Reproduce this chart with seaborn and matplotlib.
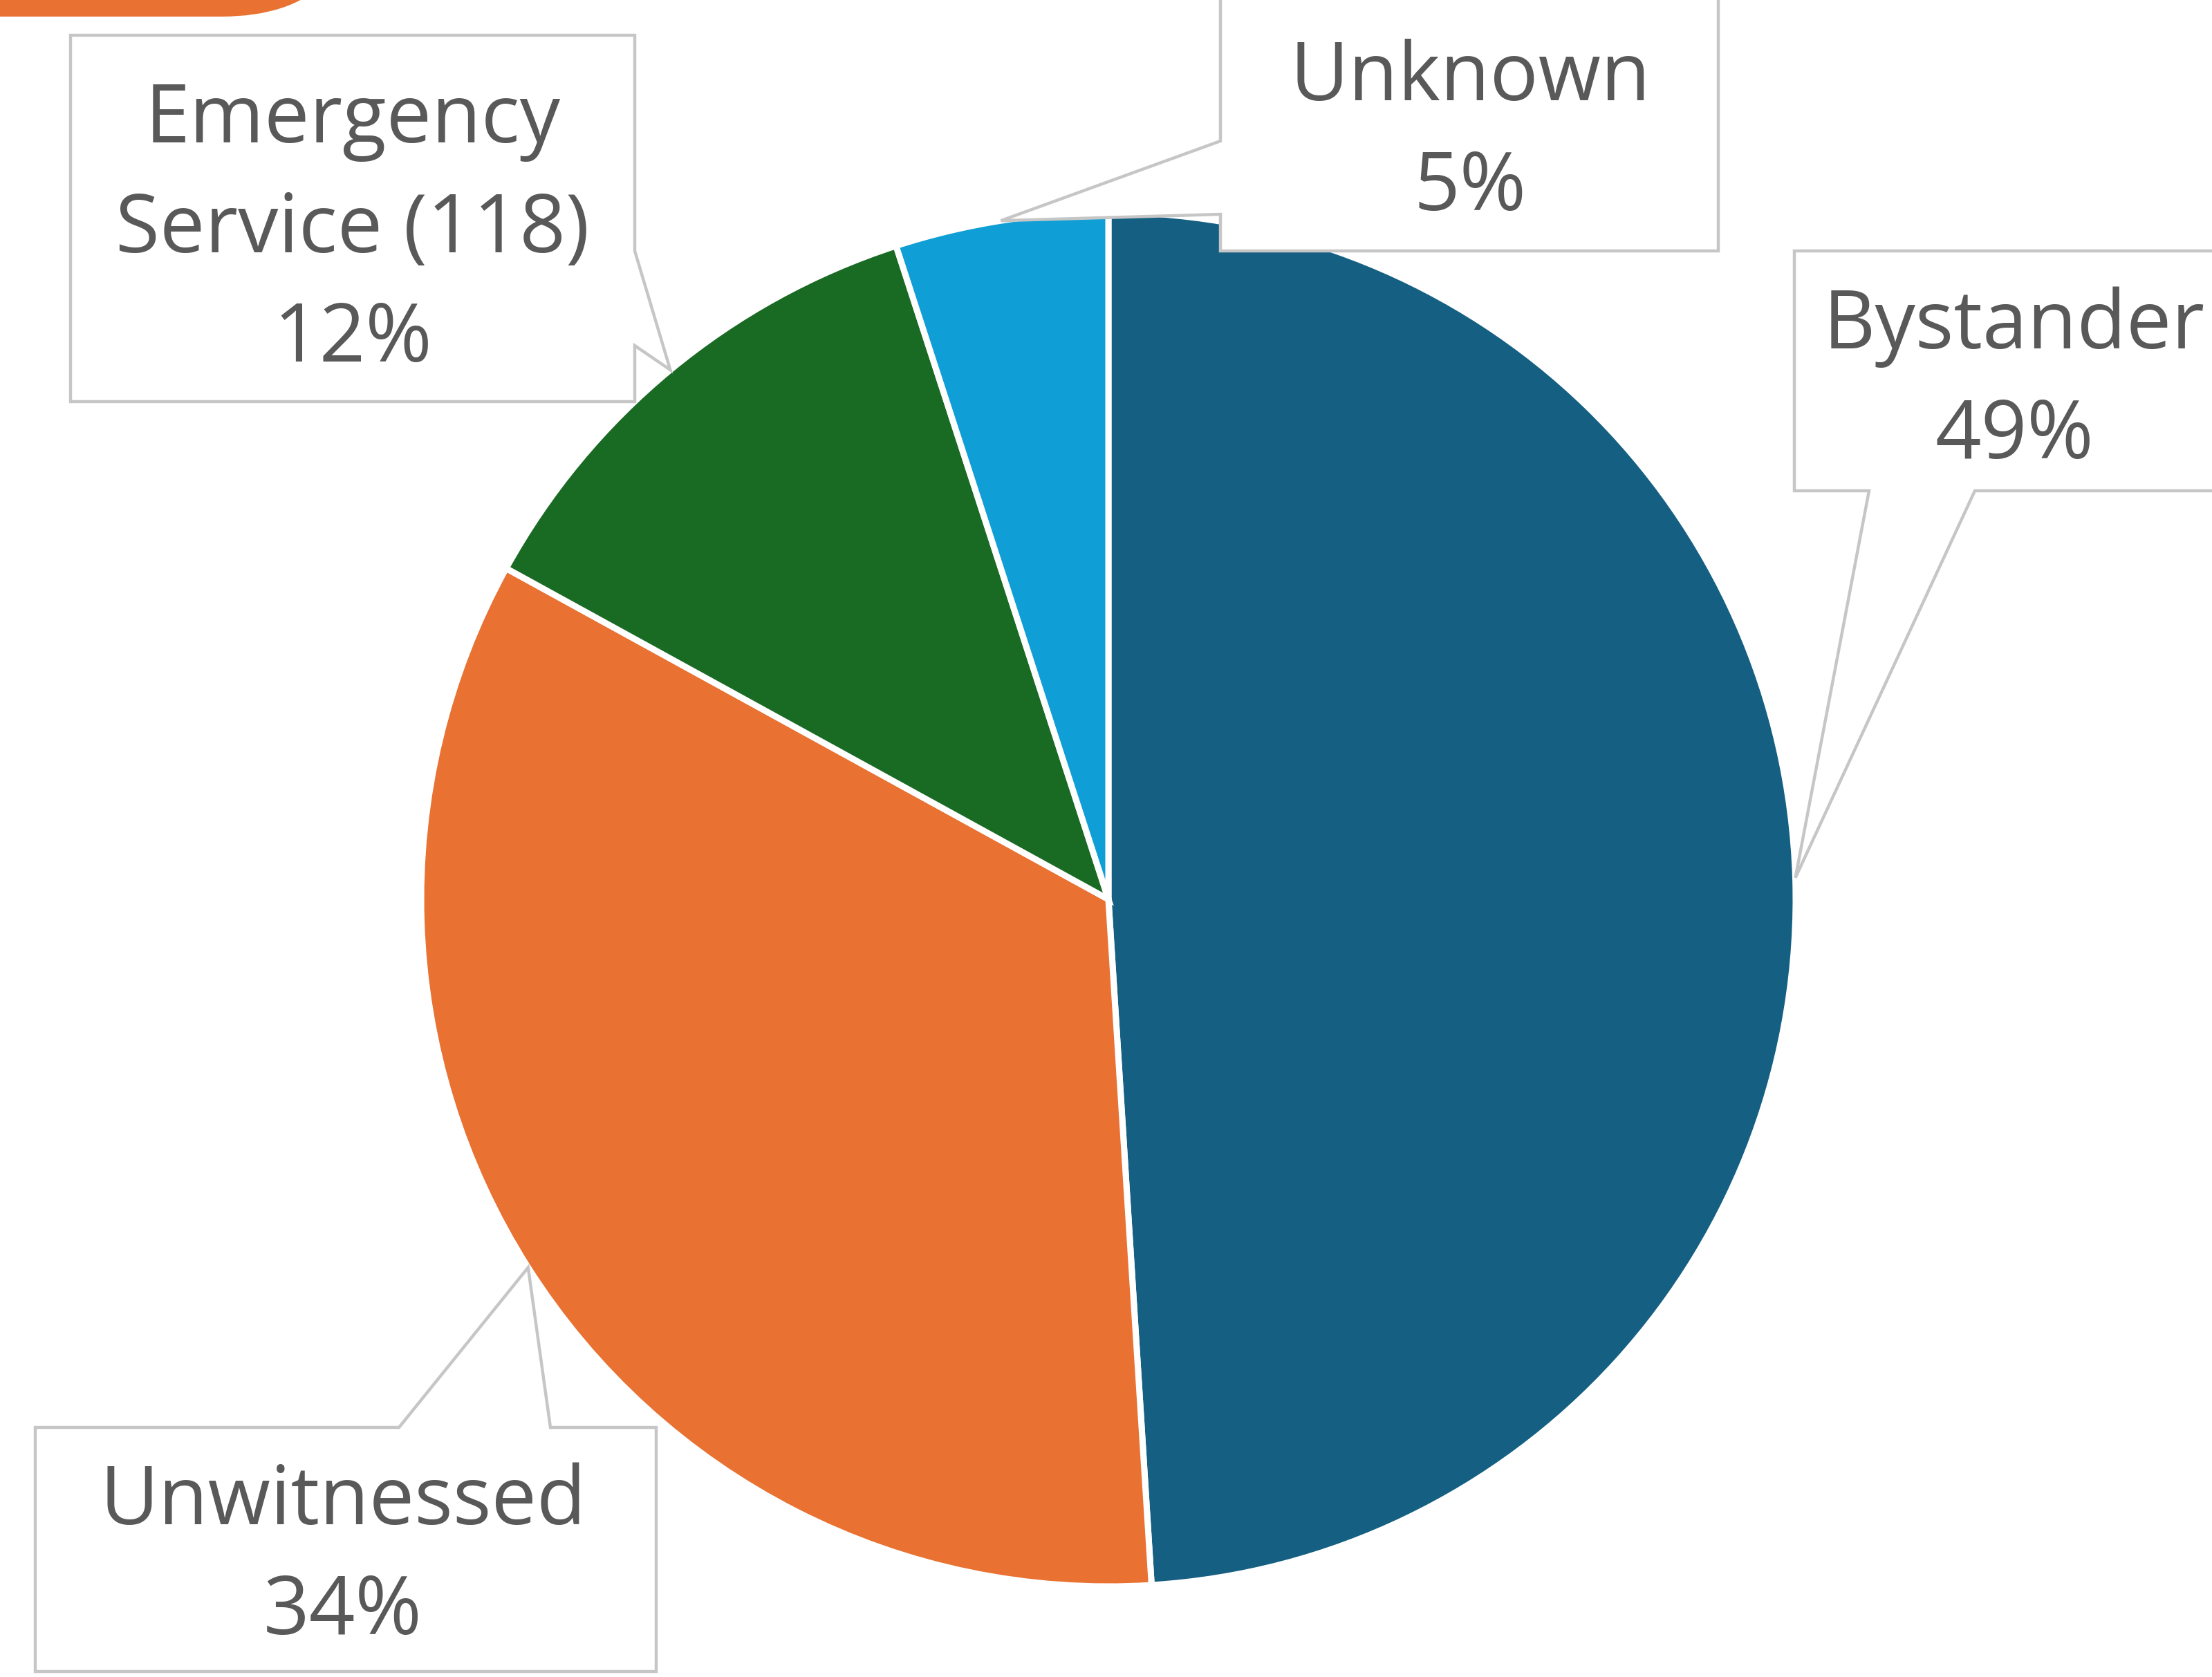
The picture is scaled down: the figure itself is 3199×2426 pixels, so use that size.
# Cardiac arrest recognition - who witnessed the event
# Pie chart with Excel-style callout labels

import matplotlib
matplotlib.use("Agg")
import matplotlib.pyplot as plt
import seaborn as sns
from matplotlib.patches import Polygon, FancyBboxPatch
import numpy as np

# Data
categories = ["Bystander", "Unwitnessed", "Emergency\nService (118)", "Unknown"]
shares = [49, 34, 12, 5]
colors = ["#156082", "#E97132", "#196B24", "#0F9ED5"]

W, H = 3199, 2426
CX, CY, R = 1603, 1301, 994  # pie centre and radius in pixels (y down)

# callout layout: box (left, top, right, bottom) y-down, side of pointer, pointer base, text centre
callouts = {
    "Bystander": ((2595, 363, 3230, 710), "bottom", (2703, 2856), (2913, 553)),
    "Unwitnessed": ((51, 2065, 949, 2418), "top", (577, 796), (496, 2254)),
    "Emergency\nService (118)": ((102, 51, 918, 581), "right", (363, 500), (510, 334)),
    "Unknown": ((1765, -20, 2485, 363), "left", (204, 310), (2126, 194)),
}

sns.set_theme(style="white")
plt.rcParams["font.family"] = ["Open Sans", "DejaVu Sans"]

TEXT = "#595959"
EDGE = "#C6C6C6"


def up(y):
    return H - y


def callout(ax, box, side, base, tip):
    l, t, r, b = box
    if side == "right":
        pts = [(l, t), (r, t), (r, base[0]), tip, (r, base[1]), (r, b), (l, b)]
    elif side == "left":
        pts = [(l, t), (r, t), (r, b), (l, b), (l, base[1]), tip, (l, base[0])]
    elif side == "bottom":
        pts = [(l, t), (r, t), (r, b), (base[1], b), tip, (base[0], b), (l, b)]
    else:
        pts = [(l, t), (base[0], t), tip, (base[1], t), (r, t), (r, b), (l, b)]
    pts = [(x, up(y)) for x, y in pts]
    ax.add_patch(Polygon(pts, closed=True, facecolor="white", edgecolor=EDGE,
                         linewidth=3.2, joinstyle="miter", zorder=5))


fig = plt.figure(figsize=(W / 100, H / 100), dpi=100)
ax = fig.add_axes([0, 0, 1, 1])

wedges, _ = ax.pie(shares, colors=colors, startangle=90, counterclock=False,
                   center=(CX, up(CY)), radius=R,
                   wedgeprops=dict(edgecolor="white", linewidth=6.5))

for w, name, val in zip(wedges, categories, shares):
    mid = np.deg2rad((w.theta1 + w.theta2) / 2)
    tip = (CX + R * np.cos(mid), CY - R * np.sin(mid))
    box, side, base, (tx, ty) = callouts[name]
    callout(ax, box, side, base, tip)
    ax.text(tx, up(ty), f"{name}\n{val}%", ha="center", va="center",
            multialignment="center", fontsize=84, color=TEXT,
            linespacing=1.47, zorder=6)

# orange header tab cut off at the top-left
ax.add_patch(FancyBboxPatch((-400, up(24)), 920, 700,
                            boxstyle="round,pad=0,rounding_size=200",
                            facecolor="#E97132", edgecolor="none", zorder=7))

ax.set_xlim(0, W)
ax.set_ylim(0, H)
ax.set_aspect("equal")
ax.axis("off")

fig.savefig("out.png", dpi=100, facecolor="white")
